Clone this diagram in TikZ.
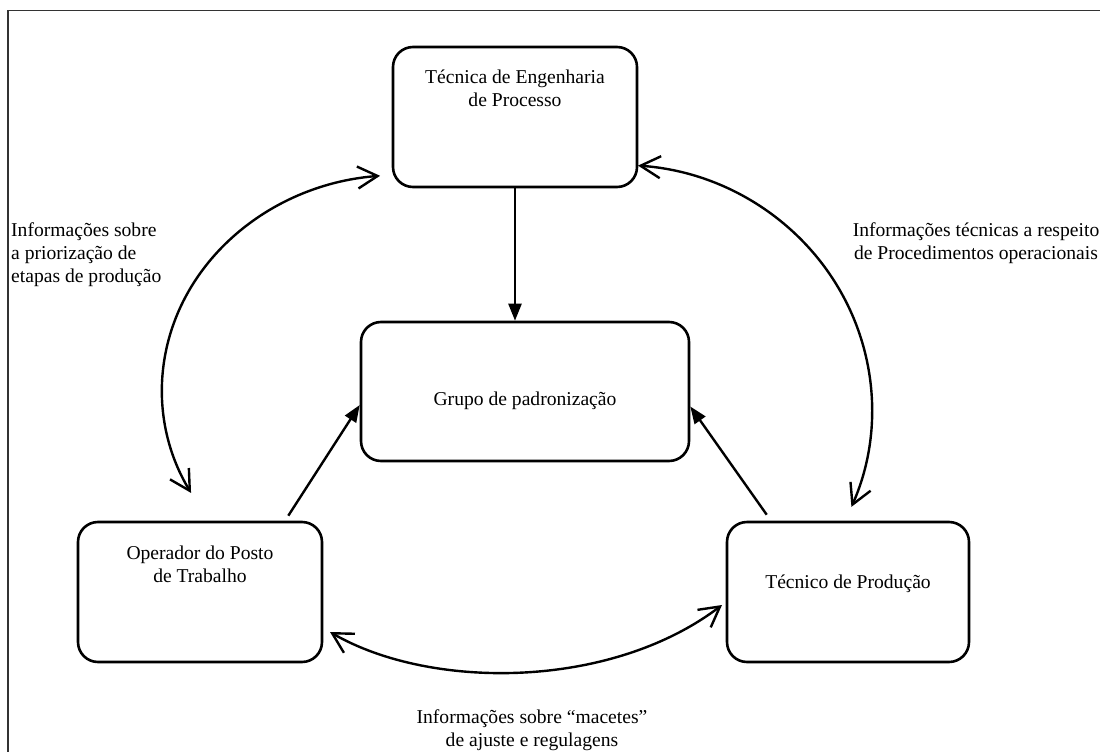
\documentclass[tikz,border=0pt]{standalone}
\usepackage{fontspec}
\setmainfont{Liberation Serif}
\newfontfamily\labelfont{Liberation Serif}
\usetikzlibrary{arrows.meta,calc}
\begin{document}
\begin{tikzpicture}[x=1pt,y=-1pt,
  box/.style={draw, line width=2.6pt, rounded corners=20pt, inner sep=0pt},
  lbl/.style={font=\labelfont\fontsize{19.6}{23}\selectfont, inner sep=0pt, align=center},
  feed/.style={line width=2.4pt, -{Triangle[length=17pt,width=13pt]}},
  flow/.style={line width=2.4pt, {Straight Barb[length=20pt,width=22pt]}-{Straight Barb[length=20pt,width=22pt]}},
  frame/.style={draw=black!80, line width=1.6pt}]
\useasboundingbox (0,0) rectangle (1100,752);
% outer frame
\draw[frame] (8,10.5) rectangle (1120,780);

% boxes
\node[box, minimum width=244pt, minimum height=140pt] (tep) at (515,117) {};
\node[box, minimum width=328pt, minimum height=139pt] (grp) at (525,391.5) {};
\node[box, minimum width=244pt, minimum height=140pt] (op) at (200,592) {};
\node[box, minimum width=242pt, minimum height=140pt] (tp) at (848,592) {};

% box texts (base = baseline of the last line)
\node[lbl, anchor=base] (tept) at (515,106) {Técnica de Engenharia\\de Processo};
\node[lbl, anchor=base] (grpt) at (525,405) {Grupo de padronização};
\node[lbl, anchor=base] (opt) at (200,582) {Operador do Posto\\de Trabalho};
\node[lbl, anchor=base] (tpt) at (848,588) {Técnico de Produção};

% straight feeds into the standardisation group
\draw[feed] (tep.south) -- (tep.south |- grp.north);
\draw[feed] ([xshift=-35pt,yshift=5pt]op.north east) -- ([yshift=-13.5pt]grp.west);
\draw[feed] ([xshift=41pt,yshift=6pt]tp.north west) -- ([yshift=-15pt]grp.east);

% curved two-way information flows
\coordinate (la) at (380.1,175.8);
\draw[flow] (la) arc[start angle=94.8, end angle=208.6, x radius=238pt, y radius=215pt];
\coordinate (ra) at (638,165.6);
\draw[flow] (ra) arc[start angle=85.9, end angle=-23.3, x radius=252pt, y radius=245pt];
\coordinate (bl) at (330,632);
\coordinate (br) at (722,605);
\draw[flow] (bl) .. controls (430,690) and (610,690) .. (br);

% flow labels
\node[lbl, anchor=base west, align=left] (ll) at (11,282) {Informações sobre\\a priorização de\\etapas de produção};
\node[lbl, anchor=base] (rl) at (976,259) {Informações técnicas a respeito\\de Procedimentos operacionais};
\node[lbl, anchor=base] (bl2) at (532,746) {Informações sobre “macetes”\\de ajuste e regulagens};
\end{tikzpicture}
\end{document}
